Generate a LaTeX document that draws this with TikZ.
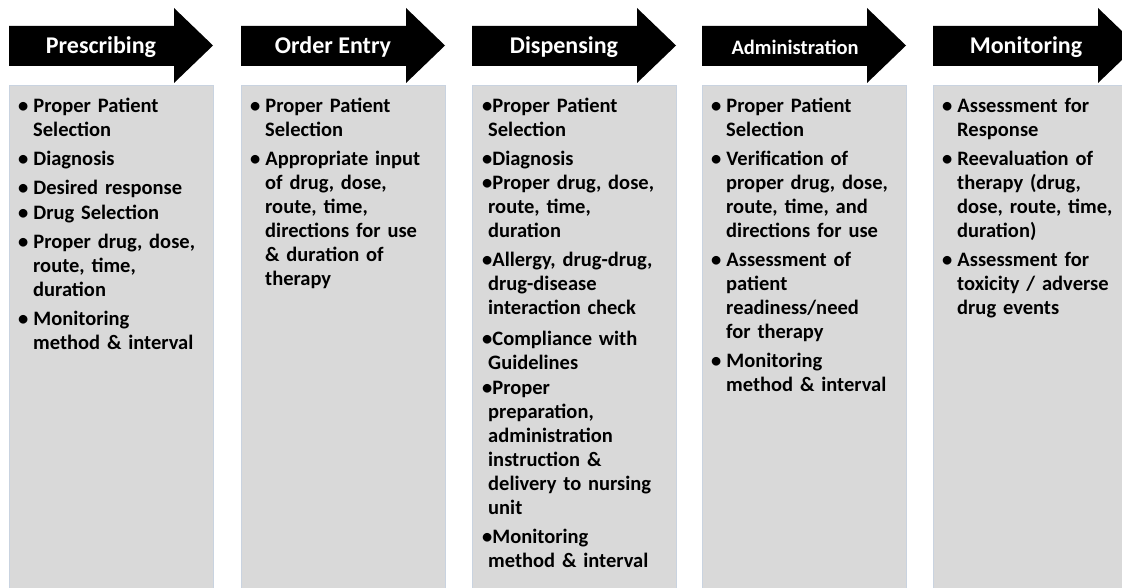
\documentclass[tikz,border=0pt]{standalone}
\usepackage{fontspec}
\setmainfont{Carlito}
\usetikzlibrary{positioning}
\definecolor{panelgray}{HTML}{D9D9D9}
\definecolor{paneledge}{HTML}{C9D3E0}
\newenvironment{checks}[3]{%
  \begin{list}{\textbullet}{%
    \setlength{\leftmargin}{#1}\setlength{\itemindent}{#2}%
    \setlength{\labelsep}{#3}\setlength{\labelwidth}{10pt}%
    \setlength{\itemsep}{5pt}\setlength{\parsep}{0pt}%
    \setlength{\topsep}{0pt}\setlength{\partopsep}{0pt}}}%
  {\end{list}}
\tikzset {
  x=1pt, y=-1pt,
  stage/.style={text=white,font=\fontsize{24}{28}\selectfont\bfseries},
  panel/.style={fill=panelgray,draw=paneledge,line width=.6pt},
  items/.style={anchor=north west,inner sep=0pt,text width=200pt,align=left,
    font=\fontsize{20.5}{24}\selectfont\bfseries},
}

\begin{document}
\begin{tikzpicture}
          \useasboundingbox (0,0) rectangle (1122,588);

          % stage arrows
          \fill (9,26) -- ++(165,0) -- ++(0,-18) -- ++(39,37.5) -- ++(-39,37.5) -- ++(0,-17) -- ++(-165,0) -- cycle;
          \fill (241,26) -- ++(165,0) -- ++(0,-18) -- ++(39,37.5) -- ++(-39,37.5) -- ++(0,-17) -- ++(-165,0) -- cycle;
          \fill (472,26) -- ++(165,0) -- ++(0,-18) -- ++(39,37.5) -- ++(-39,37.5) -- ++(0,-17) -- ++(-165,0) -- cycle;
          \fill (702,26) -- ++(165,0) -- ++(0,-18) -- ++(39,37.5) -- ++(-39,37.5) -- ++(0,-17) -- ++(-165,0) -- cycle;
          \fill (933,26) -- ++(165,0) -- ++(0,-18) -- ++(39,37.5) -- ++(-39,37.5) -- ++(0,-17) -- ++(-165,0) -- cycle;

          \node[stage] (presc) at (101,47) {Prescribing};
          \node[stage] (order) at (333,47) {Order Entry};
          \node[stage] (disp) at (564,47) {Dispensing};
          \node[stage,font=\fontsize{20.5}{24}\selectfont\bfseries] (admin) at (795,47) {Administration};
          \node[stage] (monit) at (1026,47) {Monitoring};

          % panels
          \draw[panel] (9,85) rectangle (213,590);
          \draw[panel] (241,85) rectangle (445,590);
          \draw[panel] (472,85) rectangle (676,590);
          \draw[panel] (702,85) rectangle (906,590);
          \draw[panel] (933,85) rectangle (1137,590);

          \node[items] (prescitems) at (9,88) {\begin{checks}{24pt}{0pt}{5pt}
            \item Proper Patient\\Selection
            \item Diagnosis
            \item Desired response\setlength{\itemsep}{1pt}
            \item Drug Selection\setlength{\itemsep}{5pt}
            \item Proper drug, dose,\\route, time,\\duration
            \item Monitoring\\method \& interval
          \end{checks}};

          \node[items] (orderitems) at (241,88) {\begin{checks}{24pt}{0pt}{5pt}
            \item Proper Patient\\Selection
            \item Appropriate input\\of drug, dose,\\route, time,\\directions for use\\\& duration of\\therapy
          \end{checks}};

          \node[items] (dispitems) at (472,88) {\begin{checks}{16pt}{4pt}{0pt}
            \item Proper Patient\\Selection
            \item Diagnosis\setlength{\itemsep}{0pt}
            \item Proper drug, dose,\\route, time,\\duration\setlength{\itemsep}{5pt}
            \item Allergy, drug-drug,\\drug-disease\\interaction check\setlength{\itemsep}{7pt}
            \item Compliance with\\Guidelines\setlength{\itemsep}{1pt}
            \item Proper\\preparation,\\administration\\instruction \&\\delivery to nursing\\unit\setlength{\itemsep}{5pt}
            \item Monitoring\\method \& interval
          \end{checks}};

          \node[items] (adminitems) at (702,88) {\begin{checks}{24pt}{0pt}{5pt}
            \item Proper Patient\\Selection
            \item Verification of\\proper drug, dose,\\route, time, and\\directions for use
            \item Assessment of\\patient\\readiness/need\\for therapy
            \item Monitoring\\method \& interval
          \end{checks}};

          \node[items] (monititems) at (933,88) {\begin{checks}{24pt}{0pt}{5pt}
            \item Assessment for\\Response
            \item Reevaluation of\\therapy (drug,\\dose, route, time,\\duration)
            \item Assessment for\\toxicity / adverse\\drug events
          \end{checks}};
        \end{tikzpicture}
\end{document}
